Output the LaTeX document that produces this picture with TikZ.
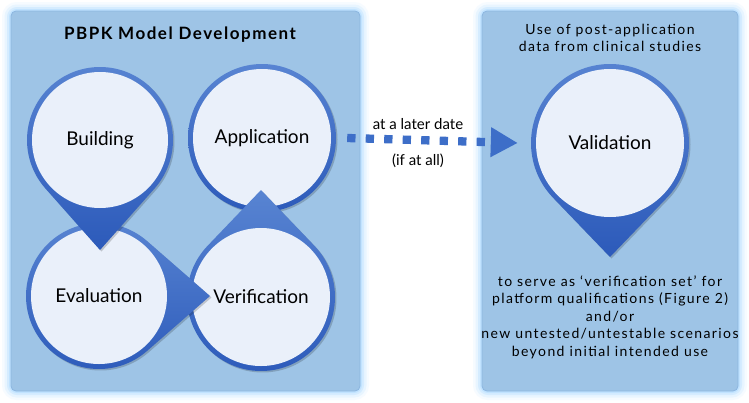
\documentclass[tikz,border=0pt]{standalone}
\usepackage{fontspec}
\setmainfont{Lato}
\usetikzlibrary{arrows.meta}

\definecolor{panelfill}{RGB}{158,196,230}
\definecolor{panelglow}{RGB}{185,224,255}
\definecolor{panelline}{RGB}{140,182,224}
\definecolor{ringdark}{RGB}{44,90,186}
\definecolor{ringlight}{RGB}{88,132,210}
\definecolor{arrowblue}{RGB}{61,110,200}
\definecolor{bubblefill}{RGB}{234,240,250}

\tikzset{
  panel/.style={fill=panelfill, draw=panelline, line width=0.8, rounded corners=5},
  bubble/.style={circle, fill=bubblefill, inner sep=0, minimum size=#1,
    font=\fontsize{19}{22}\selectfont},
  ringshade/.style={top color=ringlight, bottom color=ringdark},
  dropshade/.style={fill=black, opacity=0.18},
  smalltext/.style={inner sep=0, align=center,
    font=\fontsize{14}{17.5}\selectfont\addfontfeatures{LetterSpace=10}},
  labeltext/.style={inner sep=0, font=\fontsize{15}{18}\selectfont},
  titletext/.style={inner sep=0, font=\fontsize{17}{20}\selectfont\bfseries\addfontfeatures{LetterSpace=9}},
  squareline/.style={arrowblue, line width=8.3, dash pattern=on 8.3pt off 10.2pt,
    -{Triangle[length=27pt,width=28pt]}},
}

% droplet: name, x, y, radius, tip direction, tip distance, text
\newcommand{\droplet}[7]{%
  \pgfmathsetmacro{\tipang}{acos(#4/#6)}
  \begin{scope}[shift={(#2+1.5,#3+1.5)}]
    \fill[dropshade] (#5:#6) -- ({#5+\tipang}:#4)
      arc[start angle={#5+\tipang}, end angle={#5+360-\tipang}, radius=#4] -- cycle;
  \end{scope}
  \begin{scope}[shift={(#2,#3)}]
    \shade[ringshade] (#5:#6) -- ({#5+\tipang}:#4)
      arc[start angle={#5+\tipang}, end angle={#5+360-\tipang}, radius=#4] -- cycle;
  \end{scope}
  \node[bubble={2*(#4-5)}] (#1) at (#2,#3) {#7};
}

\begin{document}
\begin{tikzpicture}[x=1pt,y=1pt,yscale=-1,xscale=1]
\path[fill=white] (0,0) rectangle (749,402);

%Panels with glow
\foreach \w/\o in {18/0.12, 13/0.22, 8/0.4, 4/0.7}{
  \draw[panelglow, line width=\w, opacity=\o, rounded corners=6] (11,11) rectangle (360,391);
  \draw[panelglow, line width=\w, opacity=\o, rounded corners=6] (482,11) rectangle (738,391);
}
\draw[panel] (11,11) rectangle (360,391);
\draw[panel] (482,11) rectangle (738,391);

% Text Node
\node[titletext] (devtitle) at (180,35) {PBPK Model Development};

%Application circle
\fill[dropshade] (263.5,139.5) circle[radius=74];
\shade[ringshade] (262,138) circle[radius=74];
\node[bubble=138] (app) at (262,138) {Application};

%Droplets
\droplet{verif}{261}{297}{74}{-90}{107}{Verification}
\droplet{eval}{99}{296}{73}{0}{111}{Evaluation}
\droplet{build}{100}{140}{73}{90}{110}{Building}
\droplet{valid}{610}{143}{79}{90}{114}{Validation}

%Dotted arrow
\draw[squareline] ([xshift=16pt]app.east) -- ([xshift=-18pt]valid.west);

% Text Node
\node[labeltext] (laterlbl) at (418,124) {at a later date};
% Text Node
\node[labeltext] (ifall) at (418,161) {(if at all)};
% Text Node
\node[smalltext] (usetext) at (610,38) {Use of post-application\\data from clinical studies};
% Text Node
\node[smalltext] (servetext) at (610,317) {to serve as ‘verification set’ for\\platform qualifications (Figure 2)\\and/or\\new untested/untestable scenarios\\beyond initial intended use};
\end{tikzpicture}
\end{document}
